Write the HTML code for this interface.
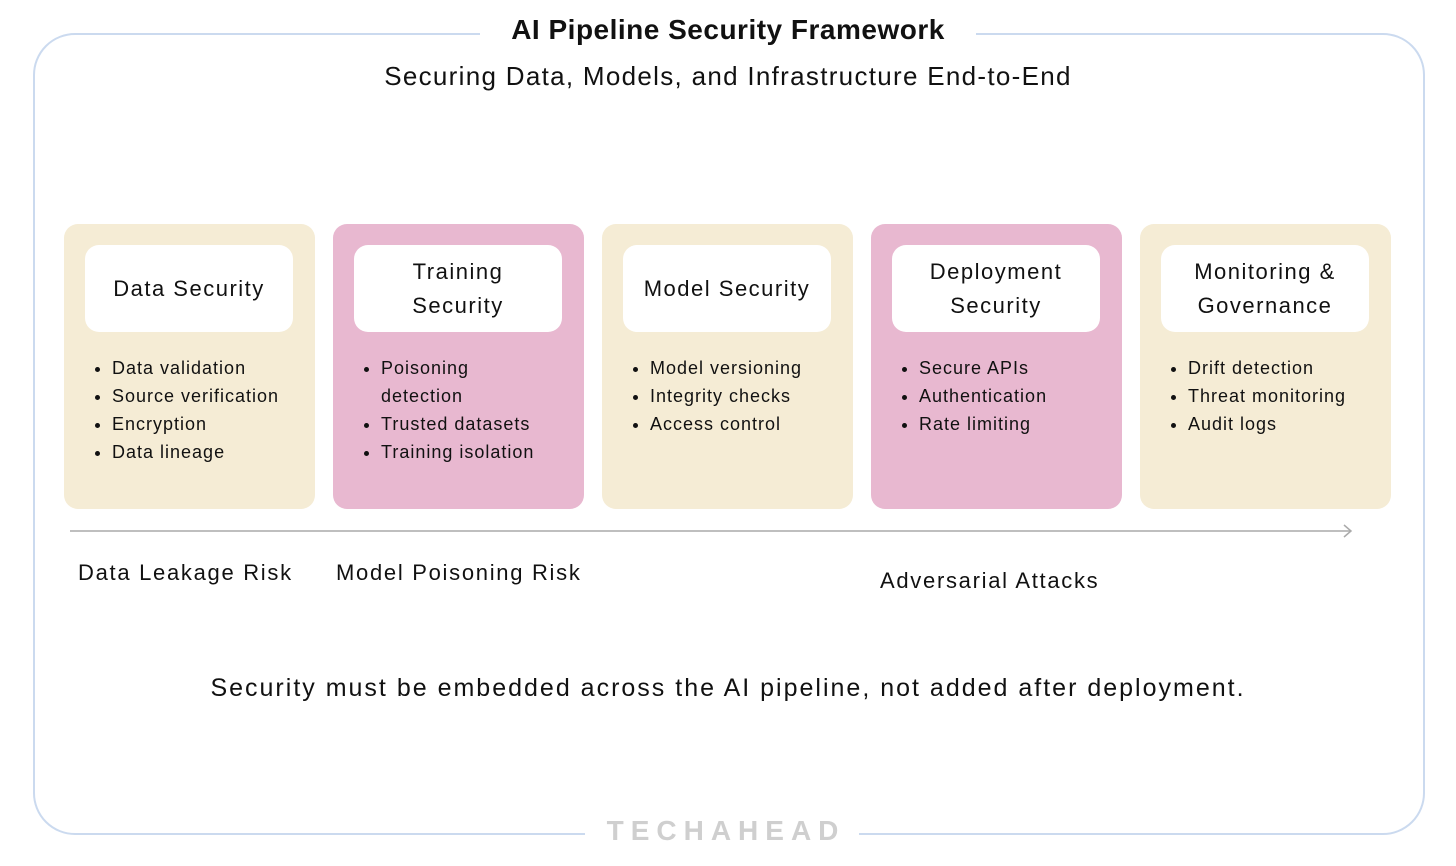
<!DOCTYPE html>
<html><head><style>
body{margin:0;width:1456px;height:866px;background:#fff;font-family:"Liberation Sans",sans-serif;position:relative;overflow:hidden;color:#111}
.abs{position:absolute}
.frame{left:33px;top:33px;width:1388px;height:798px;border:2px solid #cbdaef;border-radius:42px}
.gap{background:#fff}
.col{top:224px;width:251px;height:285px;border-radius:14px}
.y{background:#f5ecd5}.p{background:#e8b8d0}
.hd{position:absolute;left:21px;top:21px;width:208px;height:87px;background:#fff;border-radius:14px;display:flex;align-items:center;justify-content:center;text-align:center;font-size:22px;line-height:34px;letter-spacing:1.5px}
ul{position:absolute;left:28px;top:130px;margin:0;padding:0 0 0 20px;font-size:18px;line-height:28px;width:180px;letter-spacing:1px}
.lbl{font-size:22px;white-space:nowrap;letter-spacing:1.7px}
</style></head><body>
<div class="abs frame"></div>
<div class="abs gap" style="left:480px;top:20px;width:496px;height:30px"></div>
<div class="abs gap" style="left:585px;top:820px;width:274px;height:30px"></div>
<div class="abs" style="left:0;width:1456px;top:14px;text-align:center;font-weight:bold;font-size:28px;letter-spacing:0.5px">AI Pipeline Security Framework</div>
<div class="abs" style="left:0;width:1456px;top:61px;text-align:center;font-size:26px;letter-spacing:1.3px">Securing Data, Models, and Infrastructure End-to-End</div>

<div class="abs col y" style="left:64px"><div class="hd">Data Security</div><ul><li>Data validation</li><li>Source verification</li><li>Encryption</li><li>Data lineage</li></ul></div>
<div class="abs col p" style="left:333px"><div class="hd">Training<br>Security</div><ul style="width:160px"><li>Poisoning detection</li><li>Trusted datasets</li><li>Training isolation</li></ul></div>
<div class="abs col y" style="left:602px"><div class="hd">Model Security</div><ul><li>Model versioning</li><li>Integrity checks</li><li>Access control</li></ul></div>
<div class="abs col p" style="left:871px"><div class="hd">Deployment<br>Security</div><ul><li>Secure APIs</li><li>Authentication</li><li>Rate limiting</li></ul></div>
<div class="abs col y" style="left:1140px"><div class="hd">Monitoring &amp;<br>Governance</div><ul><li>Drift detection</li><li>Threat monitoring</li><li>Audit logs</li></ul></div>

<svg class="abs" style="left:0;top:0" width="1456" height="866"><line x1="70" y1="531" x2="1351" y2="531" stroke="#aaa" stroke-width="1.5"/><polyline points="1344,525 1351,531 1344,537" fill="none" stroke="#aaa" stroke-width="1.5"/></svg>

<div class="abs lbl" style="left:78px;top:560px">Data Leakage Risk</div>
<div class="abs lbl" style="left:336px;top:560px">Model Poisoning Risk</div>
<div class="abs lbl" style="left:880px;top:568px">Adversarial Attacks</div>
<div class="abs" style="left:0;width:1456px;top:674px;text-align:center;font-size:25px;letter-spacing:2px">Security must be embedded across the AI pipeline, not added after deployment.</div>
<div class="abs" style="left:585px;width:282px;top:815px;text-align:center;font-size:28px;font-weight:bold;color:#cfcfcf;letter-spacing:7px">TECHAHEAD</div>
</body></html>
